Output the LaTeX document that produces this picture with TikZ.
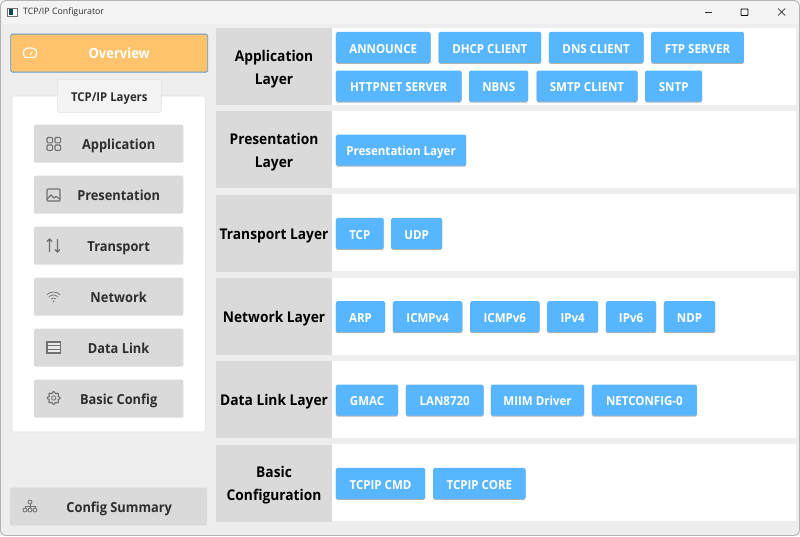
\documentclass[tikz,border=0pt]{standalone}
\usepackage{fontspec}
\setmainfont{Open Sans}
\newfontfamily\semibase[FakeStretch=0.93]{Open Sans}
\newcommand{\semi}{\semibase\bfseries}
\usetikzlibrary{shadows}
\definecolor{winbg}{HTML}{EEEEEE}
\definecolor{titlebg}{HTML}{F3F3F3}
\definecolor{greybox}{HTML}{DADADA}
\definecolor{bluebtn}{HTML}{58B6FF}
\definecolor{orangebtn}{HTML}{FFC36E}
\definecolor{orangeedge}{HTML}{5B9BC8}
\definecolor{inkdark}{HTML}{2E2E2E}
\definecolor{iconc}{HTML}{707070}
\tikzset{x=1pt,y=-1pt,
  chip/.style={fill=bluebtn,rounded corners=1.5pt,anchor=north west,minimum height=31pt,inner sep=0pt,text height=12pt,text depth=.6pt,text=white,font=\fontsize{12.4}{14}\semi,drop shadow={shadow xshift=0pt,shadow yshift=-1pt,opacity=.3,fill=black}},
  layerbase/.style={fill=greybox,anchor=north west,minimum width=115.7pt,minimum height=77pt,inner sep=0pt,align=center,text=black,font=\fontsize{14.8}{23.3}\semi},
  layerlab/.style={layerbase,text height=12.5pt,text depth=.6pt},
  layertwo/.style={layerbase},
  rowbg/.style={fill=white,draw=none},
  navbtn/.style={fill=greybox,rounded corners=1.5pt,anchor=north west,minimum width=149.5pt,minimum height=38pt,inner sep=0pt,text height=12.4pt,text depth=.6pt,text=inkdark,font=\fontsize{13.8}{16}\semi},
  ico/.style={draw=iconc,line width=1.1pt,fill=none}
}
\newcommand{\chipat}[5]{\node[chip,minimum width=#4pt] (#1) at (#2,#3) {#5};}
\newcommand{\topstrut}{\rule{0pt}{15.8pt}}
\begin{document}
\begin{tikzpicture}
\useasboundingbox (0,0) rectangle (800,536);
\fill[winbg] (0,0) rectangle (800,536);
\fill[titlebg] (0,0) rectangle (800,24);
\draw[black!30,line width=.8pt,rounded corners=5pt] (.5,.5) rectangle (799.5,535.5);
\node[anchor=west,inner sep=0pt,font=\fontsize{8.8}{10}\selectfont,text=inkdark] (title) at (23,12) {TCP/IP Configurator};
\draw[iconc,fill=white,line width=.5pt] (7.5,8) rectangle (17.5,16);
\fill[teal!60!black] (8.5,9) rectangle (12.5,15);
% window buttons
\coordinate (minA) at (705,12); \coordinate (minB) at (712,12);
\draw[inkdark,line width=.7pt] (minA) -- (minB);
\draw[black,line width=.8pt,rounded corners=.8pt] (741,9) rectangle (748,15.5);
\draw[inkdark,line width=.7pt] (778,8.5) -- (785,15.5) (778,15.5) -- (785,8.5);
% left
\node[fill=orangebtn,draw=orangeedge,line width=.8pt,rounded corners=1.5pt,anchor=north west,minimum width=197pt,minimum height=38pt,inner sep=0pt,text height=11.8pt,text depth=.6pt,text=white,font=\fontsize{14}{16}\semi] (over) at (10.3,33.7) {\hspace*{20pt}Overview};
\draw[white,line width=1.2pt,rounded corners=1pt] (25,57.5) .. controls (21,50) and (26,48) .. (30,48) .. controls (34,48) and (39,50) .. (35,57.5) -- cycle;
\draw[white,line width=.9pt] (30,55) -- (32.5,51.5);
\draw[draw=black!12,fill=white,rounded corners=1.5pt,line width=.6pt] (12,96) rectangle (205.3,432);
\node[draw=black!12,fill=titlebg,rounded corners=1.5pt,line width=.6pt,anchor=north west,minimum width=104pt,minimum height=33pt,inner sep=0pt,text height=11pt,text depth=.6pt,text=inkdark,font=\fontsize{12.2}{14}\semi] (tcpip) at (57,79) {TCP/IP Layers};
\node[navbtn] (napp) at (33.7,124.5) {\hspace*{20pt}Application};
\node[navbtn] (npre) at (33.7,175.5) {\hspace*{20pt}Presentation};
\node[navbtn] (ntra) at (33.7,226.5) {\hspace*{20pt}Transport};
\node[navbtn] (nnet) at (33.7,277.5) {\hspace*{20pt}Network};
\node[navbtn] (ndat) at (33.7,328.5) {\hspace*{20pt}Data Link};
\node[navbtn] (nbas) at (33.7,379.5) {\hspace*{20pt}Basic Config};
\node[navbtn,minimum width=197pt] (nsum) at (10,487.5) {\hspace*{21pt}Config Summary};
% nav icons
\foreach \x/\y in {47/137.5,55/137.5,47/145,55/145}{\draw[ico,rounded corners=1pt] (\x,\y) rectangle ++(5.6,5.3);}
\draw[ico,rounded corners=1pt] (47,189) rectangle (60,201);
\draw[ico] (47,199) -- (51,195) -- (54,198) -- (56,196.5) -- (60,199);
\draw[ico] (49.5,252) -- (49.5,239) (47,241.5) -- (49.5,239) -- (52,241.5);
\draw[ico] (57.5,239) -- (57.5,252) (55,249.5) -- (57.5,252) -- (60,249.5);
\foreach \r in {3.5,6.5,9.5}{\draw[ico,line width=.7pt] (53.5,301.5) ++(-135:\r) arc[start angle=-135,end angle=-45,radius=\r];}
\fill[iconc] (53.5,301.5) circle (.9);
\draw[ico,fill=black!8] (47,342) rectangle (60.5,353);
\draw[ico] (47,345.7) -- (60.5,345.7) (47,349.4) -- (60.5,349.4);
\draw[ico,line join=round] plot[domain=0:360,samples=97] ({53.7+(5.6+.8*cos(8*\x))*cos(\x)},{398+(5.6+.8*cos(8*\x))*sin(\x)}) -- cycle;
\draw[ico,line width=.8pt] (53.7,398) circle (2.2);
\draw[ico,line width=.8pt] (30,502) circle (2) (25,510) circle (2) (30,510) circle (2) (35,510) circle (2);
\draw[ico,line width=.8pt] (30,504) -- (30,508) (25,508) -- (25,506) -- (35,506) -- (35,508);
% rows
\foreach \y in {28,111,194.4,278,361,444.4}{
  \fill[rowbg] (331.7,\y) rectangle (795.7,\y+77);
}
\node[layertwo] (lapp) at (216,28) {\topstrut Application\\Layer};
\node[layertwo] (lpre) at (216,111) {\topstrut Presentation\\Layer};
\node[layerlab] (ltra) at (216,194.4) {Transport Layer};
\node[layerlab] (lnet) at (216,278) {Network Layer};
\node[layerlab] (ldat) at (216,361) {Data Link Layer};
\node[layertwo] (lbas) at (216,444.4) {\topstrut Basic\\Configuration};
% chips
\chipat{a1}{335.7}{31.7}{94.6}{ANNOUNCE}
\chipat{a2}{438.3}{31.7}{102.7}{DHCP CLIENT}
\chipat{a3}{548.7}{31.7}{94.6}{DNS CLIENT}
\chipat{a4}{651}{31.7}{92.7}{FTP SERVER}
\chipat{a5}{335.7}{70.3}{125.6}{HTTPNET SERVER}
\chipat{a6}{469}{70.3}{59}{NBNS}
\chipat{a7}{536.3}{70.3}{101}{SMTP CLIENT}
\chipat{a8}{645}{70.3}{57}{SNTP}
\chipat{p1}{335.7}{134.4}{130.3}{Presentation Layer}
\chipat{t1}{335.7}{217.7}{47.8}{TCP}
\chipat{t2}{391}{217.7}{51}{UDP}
\chipat{n1}{335.7}{301}{49.3}{ARP}
\chipat{n2}{392.7}{301}{69.5}{ICMPv4}
\chipat{n3}{470}{301}{69.3}{ICMPv6}
\chipat{n4}{547}{301}{51}{IPv4}
\chipat{n5}{605.7}{301}{50.3}{IPv6}
\chipat{n6}{663.7}{301}{51.3}{NDP}
\chipat{d1}{335.7}{384.3}{62.3}{GMAC}
\chipat{d2}{405.7}{384.3}{77.6}{LAN8720}
\chipat{d3}{490.7}{384.3}{93.3}{MIIM Driver}
\chipat{d4}{591.7}{384.3}{105}{NETCONFIG-0}
\chipat{b1}{335.7}{467.7}{89.3}{TCPIP CMD}
\chipat{b2}{433}{467.7}{92.3}{TCPIP CORE}
\end{tikzpicture}
\end{document}
